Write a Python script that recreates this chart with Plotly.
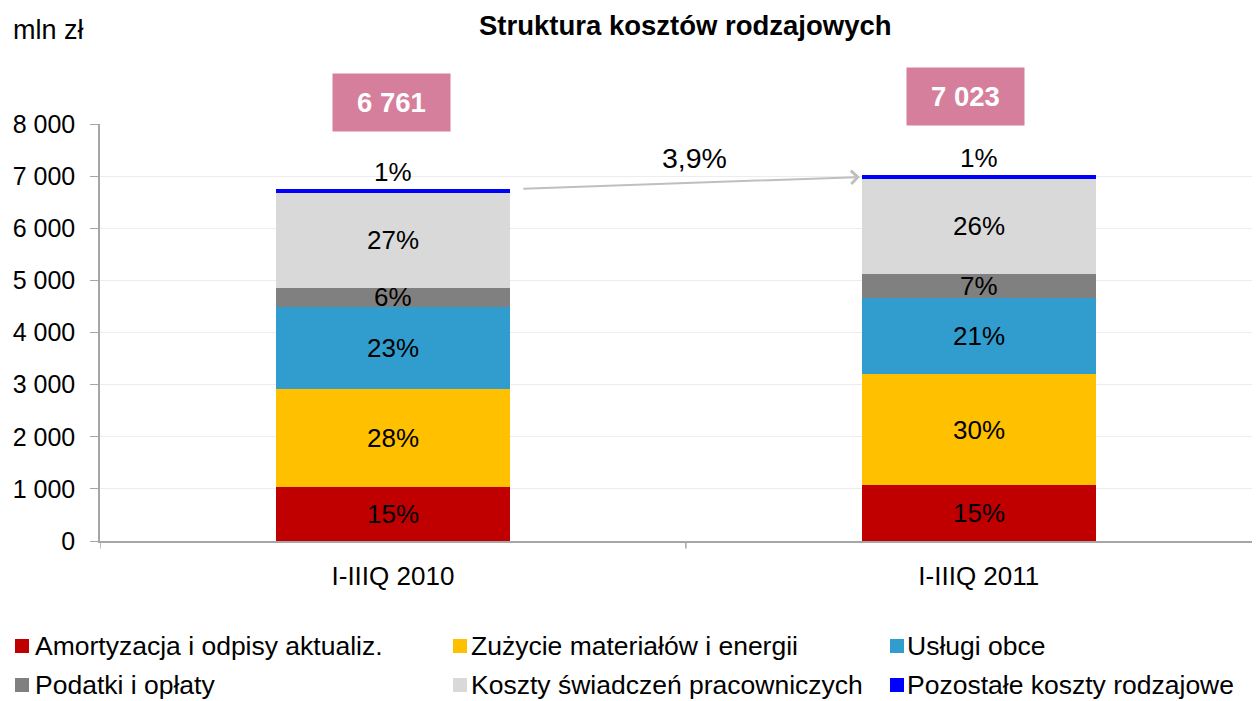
import plotly.graph_objects as go

categories = ["I-IIIQ 2010", "I-IIIQ 2011"]
series_names = ["Amortyzacja i odpisy aktualiz.", "Zużycie materiałów i energii", "Usługi obce",
                "Podatki i opłaty", "Koszty świadczeń pracowniczych", "Pozostałe koszty rodzajowe"]
series_colors = ["#C00000", "#FFC000", "#319DCF", "#808080", "#D9D9D9", "#0000FF"]
amortyzacja = [1036, 1070]
zuzycie = [1875, 2125]
uslugi = [1575, 1463]
podatki = [376, 467]
swiadczenia = [1823, 1829]
pozostale = [76, 69]
totals = [6761, 7023]
y_ticks = [0, 1000, 2000, 3000, 4000, 5000, 6000, 7000, 8000]

series_values = [amortyzacja, zuzycie, uslugi, podatki, swiadczenia, pozostale]
xpos = [0, 1]
FONT = "Liberation Sans, Arial, sans-serif"
FS = 25

# page has an 8px body margin: figure is drawn 8px lower/right than its own coordinates
OFF = 8
W, H = 1260 - OFF, 701 - OFF
PL, PT, PW, PH = 100, 124, 1160, 417  # plot area in screenshot pixels


def px_x(sx):
    return (sx - PL) / PW


def px_y(sy):
    return (PT + PH - sy) / PH


fig = go.Figure()
for name, vals, col in zip(series_names, series_values, series_colors):
    fig.add_trace(go.Bar(x=xpos, y=vals, name=name, marker=dict(color=col, line=dict(width=0)),
                         width=0.4, showlegend=False, hoverinfo="y+name"))

annotations = []
# percentage labels
for i in range(2):
    base = 0
    for k, vals in enumerate(series_values):
        v = vals[i]
        pct = round(v / totals[i] * 100)
        if k == len(series_values) - 1:
            annotations.append(dict(x=xpos[i], y=base + v, text=f"{pct}%", showarrow=False,
                                    xanchor="center", yanchor="bottom", yshift=0,
                                    font=dict(size=26, color="black")))
        else:
            annotations.append(dict(x=xpos[i], y=base + v / 2, text=f"{pct}%", showarrow=False,
                                    xanchor="center", yanchor="middle",
                                    font=dict(size=26, color="black")))
        base += v

# total boxes
box_cx = [391.5, 965]
box_cy = [102.5, 96.5]
for i in range(2):
    annotations.append(dict(xref="paper", yref="paper", x=px_x(box_cx[i]), y=px_y(box_cy[i]),
                            xanchor="center", yanchor="middle",
                            text=f"<b>{totals[i]:,}</b>".replace(",", " "),
                            showarrow=False, bgcolor="#D57F9C",
                            width=113, height=53, borderpad=2,
                            font=dict(size=27.5, color="white")))

# growth arrow
growth = (totals[1] / totals[0] - 1) * 100
annotations.append(dict(x=0.797, y=totals[1] - 40, ax=0.22, ay=totals[0] - 5, axref="x", ayref="y",
                        xref="x", yref="y", showarrow=True, arrowhead=4, arrowsize=1.3, arrowwidth=2,
                        arrowcolor="#BFBFBF", text=""))
annotations.append(dict(xref="paper", yref="paper", x=px_x(694), y=px_y(158),
                        xanchor="center", yanchor="middle",
                        text=f"{growth:.1f}%".replace(".", ","), showarrow=False,
                        font=dict(size=28.5, color="black")))

# mln zł
annotations.append(dict(xref="paper", yref="paper", x=px_x(11), y=px_y(30),
                        xanchor="left", yanchor="middle", text="mln zł", showarrow=False,
                        font=dict(size=27, color="black")))

# title
annotations.append(dict(xref="paper", yref="paper", x=px_x(685), y=px_y(26),
                        xanchor="center", yanchor="middle", text="<b>Struktura kosztów rodzajowych</b>",
                        showarrow=False, font=dict(size=27.5, color="black")))

# legend (manual)
shapes = []
sq_x = [15, 453, 890]
txt_x = [34, 470, 906]
row_y = [646, 685]
SQ = 14
for k, (name, col) in enumerate(zip(series_names, series_colors)):
    r, c = divmod(k, 3)
    shapes.append(dict(type="rect", xref="paper", yref="paper",
                       x0=px_x(sq_x[c]), x1=px_x(sq_x[c] + SQ),
                       y0=px_y(row_y[r] + SQ / 2), y1=px_y(row_y[r] - SQ / 2),
                       fillcolor=col, line=dict(width=0)))
    annotations.append(dict(xref="paper", yref="paper", x=px_x(txt_x[c]), y=px_y(row_y[r]),
                            xanchor="left", yanchor="middle", showarrow=False, text=name,
                            borderpad=0, font=dict(size=26.5, color="black")))

for xv in [-0.5, 0.5]:
    shapes.append(dict(type="line", xref="x", yref="paper", x0=xv, x1=xv, y0=0, y1=-0.018,
                       line=dict(color="#A6A6A6", width=1.5)))

fig.update_layout(
    barmode="stack",
    width=W, height=H,
    margin=dict(l=PL - OFF, r=W - (PL - OFF) - PW, t=PT - OFF, b=H - (PT - OFF) - PH),
    paper_bgcolor="white", plot_bgcolor="white",
    font=dict(family=FONT, size=FS, color="black"),
    separators=", ",
    xaxis=dict(range=[-0.5, 1.48], tickvals=xpos, ticktext=categories, showgrid=False,
               showline=True, linecolor="#A6A6A6", linewidth=1.5, ticks="", zeroline=False,
               ticklabelstandoff=11, tickfont=dict(size=26)),
    yaxis=dict(range=[0, 8000], tickvals=y_ticks, tickformat=",d", showgrid=True,
               gridcolor="#EDEDED", gridwidth=1, showline=True, linecolor="#A6A6A6", linewidth=1.5,
               ticks="outside", ticklen=8, tickcolor="#A6A6A6", zeroline=False,
               tickfont=dict(size=FS), ticklabelstandoff=10),
    annotations=annotations,
    shapes=shapes,
)

fig.write_html("out.html")
